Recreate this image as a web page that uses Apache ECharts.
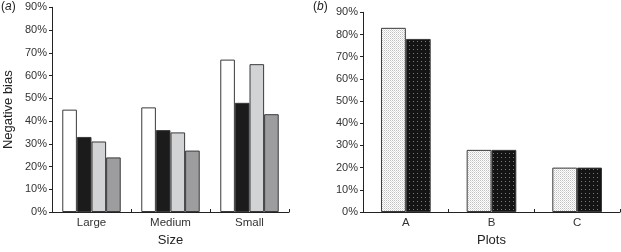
<!DOCTYPE html>
<html>
<head>
<meta charset="utf-8">
<script src="https://cdn.jsdelivr.net/npm/echarts@6/dist/echarts.min.js"></script>
<style>
  html, body { margin: 0; padding: 0; background: #fff; }
  #main { width: 621px; height: 252px; }
</style>
</head>
<body>
<div id="main"></div>
<script>
// panel (a)
var sizeCats = ['Large', 'Medium', 'Small'];
var sizeS1 = [45, 46, 67];
var sizeS2 = [33, 36, 48];
var sizeS3 = [31, 35, 65];
var sizeS4 = [24, 27, 43];
// panel (b)
var plotCats = ['A', 'B', 'C'];
var plotS1 = [83, 28, 20];
var plotS2 = [78, 28, 20];
var yTicks = [0, 10, 20, 30, 40, 50, 60, 70, 80, 90];

var FONT = 'Liberation Sans, Arial, sans-serif';

// small tile patterns for the stippled bars
function makeTile(size, bg, dots) {
    var c = document.createElement('canvas');
    c.width = size;
    c.height = size;
    var ctx = c.getContext('2d');
    ctx.fillStyle = bg;
    ctx.fillRect(0, 0, size, size);
    dots.forEach(function (d) {
        ctx.fillStyle = d[2];
        ctx.fillRect(d[0], d[1], 1, 1);
    });
    return c;
}
var lightTile = makeTile(2, '#ffffff', [[0, 0, '#c2c2c2'], [1, 1, '#dedede']]);
var darkTile = makeTile(4, '#141414', [[1, 1, '#7a7a7a']]);

var chart = echarts.init(document.getElementById('main'), null, { renderer: 'canvas' });

function yAxis(gridIndex, name) {
    return {
        type: 'value',
        gridIndex: gridIndex,
        min: yTicks[0],
        max: yTicks[yTicks.length - 1],
        interval: 10,
        name: name,
        nameLocation: 'middle',
        nameGap: 37,
        nameTextStyle: { fontFamily: FONT, fontSize: 13, color: '#222' },
        axisLine: { show: true, lineStyle: { color: '#222', width: 1 } },
        axisTick: { show: true, inside: false, length: 3, lineStyle: { color: '#222' } },
        axisLabel: { margin: 5, fontFamily: FONT, fontSize: 11, color: '#333', formatter: '{value}%' },
        splitLine: { show: false }
    };
}

function xAxis(gridIndex, cats, name) {
    return {
        type: 'category',
        gridIndex: gridIndex,
        data: cats,
        name: name,
        nameLocation: 'middle',
        nameGap: 22,
        nameTextStyle: { fontFamily: FONT, fontSize: 13, color: '#222' },
        axisLine: { show: true, lineStyle: { color: '#222', width: 1 } },
        axisTick: { show: true, inside: true, length: 3, lineStyle: { color: '#222' } },
        axisLabel: { margin: 5, fontFamily: FONT, fontSize: 11.5, color: '#333' }
    };
}

function barSeries(xi, data, color, gap) {
    return {
        type: 'bar',
        xAxisIndex: xi,
        yAxisIndex: xi,
        data: data,
        barGap: '0%',
        barCategoryGap: gap,
        silent: true,
        itemStyle: { color: color, borderColor: '#3a3a3a', borderWidth: 1 }
    };
}

var option = {
    animation: false,
    backgroundColor: '#fff',
    graphic: [
        {
            type: 'text', left: 1, top: 1,
            style: {
                text: '({i|a})',
                font: '12px ' + FONT,
                fill: '#222',
                rich: { i: { fontStyle: 'italic', fontSize: 12, fontFamily: FONT, fill: '#222' } }
            }
        },
        {
            type: 'text', left: 313, top: 1,
            style: {
                text: '({i|b})',
                font: '12px ' + FONT,
                fill: '#222',
                rich: { i: { fontStyle: 'italic', fontSize: 12, fontFamily: FONT, fill: '#222' } }
            }
        }
    ],
    grid: [
        { left: 52, right: 332, top: 7.3, bottom: 33.3 },
        { left: 363, right: 1, top: 12.3, bottom: 33.3 }
    ],
    xAxis: [xAxis(0, sizeCats, 'Size'), xAxis(1, plotCats, 'Plots')],
    yAxis: [yAxis(0, 'Negative bias'), yAxis(1, '')],
    series: [
        barSeries(0, sizeS1, '#ffffff', '26%'),
        barSeries(0, sizeS2, '#1b1b1c', '26%'),
        barSeries(0, sizeS3, '#d2d3d5', '26%'),
        barSeries(0, sizeS4, '#9d9d9f', '26%'),
        barSeries(1, plotS1, { image: lightTile, repeat: 'repeat' }, '42%'),
        barSeries(1, plotS2, { image: darkTile, repeat: 'repeat' }, '42%')
    ]
};

chart.setOption(option);
</script>
</body>
</html>
